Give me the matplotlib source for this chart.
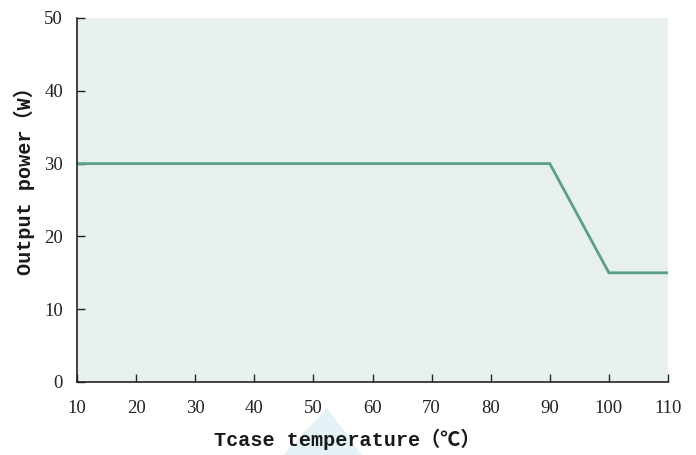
import matplotlib.pyplot as plt
from matplotlib.patches import Polygon

# derating curve
temps = [10, 90, 100, 110]
power = [30, 30, 15, 15]
x_ticks = [10, 20, 30, 40, 50, 60, 70, 80, 90, 100, 110]
y_ticks = [0, 10, 20, 30, 40, 50]

BG = "#e8f0ec"
LINE = "#5a9f86"
LABEL_FONT = ["Liberation Mono", "Noto Sans CJK SC", "DejaVu Sans"]


def main():
    fig = plt.figure(figsize=(6.96, 4.55), dpi=100)
    W, H = 696, 455

    # faint watermark wedge under the x label
    fig.patches.append(Polygon([(327 / W, 1 - 408 / H), (283 / W, 0.0),
                                (362 / W, 0.0)],
                               closed=True, transform=fig.transFigure,
                               facecolor="#e4f2f7", edgecolor="none",
                               zorder=0))

    ax = fig.add_axes([77 / W, 1 - 382 / H, (668 - 77) / W, (382 - 18) / H])
    ax.set_facecolor(BG)

    ax.plot(temps, power, color=LINE, lw=2.0, solid_joinstyle="miter")

    ax.set_xlim(10, 110)
    ax.set_ylim(0, 50)
    ax.set_xticks(x_ticks)
    ax.set_yticks(y_ticks)
    ax.set_xticklabels([str(v) for v in x_ticks], family="Liberation Serif",
                       fontsize=13.5, color="#333333")
    ax.set_yticklabels([str(v) for v in y_ticks], family="Liberation Serif",
                       fontsize=13.5, color="#333333")
    ax.tick_params(direction="in", length=6, width=1, colors="#222222")
    ax.tick_params(axis="x", pad=13)
    ax.tick_params(axis="y", pad=10)

    ax.spines["top"].set_visible(False)
    ax.spines["right"].set_visible(False)
    for s in ("left", "bottom"):
        ax.spines[s].set_color("#222222")
        ax.spines[s].set_linewidth(1.2)

    fig.text(347 / W, 1 - 439 / H, "Tcase temperature（℃）",
             ha="center", va="center", fontsize=14.5, fontweight="bold",
             family=LABEL_FONT, color="#1a1a1a")
    fig.text(24 / W, 1 - 176 / H, "Output power（W）",
             ha="center", va="center", rotation=90, fontsize=14.5,
             fontweight="bold", family=LABEL_FONT, color="#1a1a1a")

    fig.savefig("out.png", dpi=100)


if __name__ == "__main__":
    main()
